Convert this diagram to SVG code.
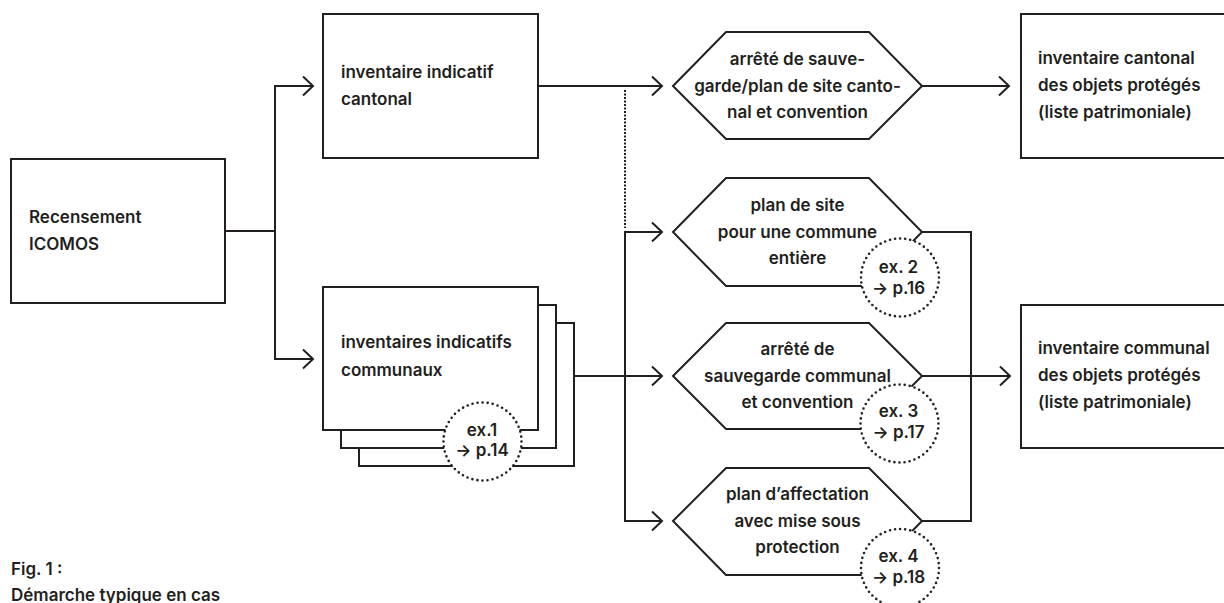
<svg xmlns="http://www.w3.org/2000/svg" width="1224" height="603" viewBox="0 0 1224 603">
<style>
.box{fill:#fff;stroke:#231f20;stroke-width:2}
.ln{fill:none;stroke:#231f20;stroke-width:2}
.dotc{fill:#fff;stroke:#231f20;stroke-width:2.6;stroke-linecap:round;stroke-dasharray:0 5.1}
.t{font-family:Inter,"Liberation Sans",Arial,sans-serif;font-weight:600;font-size:17px;fill:#231f20}
.c{text-anchor:middle}
</style>
<defs>
<marker id="arr" markerUnits="userSpaceOnUse" markerWidth="14" markerHeight="24" refX="12" refY="12" orient="auto" overflow="visible">
<path d="M2,2.5 L12,12 L2,21.5" fill="none" stroke="#231f20" stroke-width="2"/>
</marker>
</defs>
<g id="connectors">
<path class="ln" d="M225,231 H275"/>
<path class="ln" d="M275,231 V86 H313" marker-end="url(#arr)"/>
<path class="ln" d="M275,231 V359 H313" marker-end="url(#arr)"/>
<path class="ln" d="M538,86 H662" marker-end="url(#arr)"/>
<path class="ln" d="M625,90 V228" stroke-width="2.6" stroke-dasharray="2 1.5"/>
<path class="ln" d="M574,376 H662" marker-end="url(#arr)"/>
<path class="ln" d="M625,376 V232 H662" marker-end="url(#arr)"/>
<path class="ln" d="M625,376 V521 H662" marker-end="url(#arr)"/>
<path class="ln" d="M922,86 H1009" marker-end="url(#arr)"/>
<path class="ln" d="M922,232 H971 V521 H922"/>
<path class="ln" d="M922,376 H1010" marker-end="url(#arr)"/>
</g>
<g id="recensement">
<rect class="box" x="11" y="159" width="214" height="144"/>
<text class="t" x="29" y="222.5">Recensement</text>
<text class="t" x="29" y="249.5">ICOMOS</text>
</g>
<g id="inventaire-indicatif-cantonal">
<rect class="box" x="323" y="14" width="215" height="144"/>
<text class="t" x="341" y="78">inventaire indicatif</text>
<text class="t" x="341" y="104.5">cantonal</text>
</g>
<g id="inventaires-communaux">
<rect class="box" x="359" y="323" width="215" height="143"/>
<rect class="box" x="341" y="305" width="215" height="143"/>
<rect class="box" x="323" y="287" width="215" height="143"/>
<text class="t" x="341" y="348">inventaires indicatifs</text>
<text class="t" x="341" y="375.5">communaux</text>
<circle class="dotc" cx="482.5" cy="441.5" r="39"/>
<text class="t c" x="482" y="435.5">ex.1</text>
<text class="t c" x="482" y="455.5">→ p.14</text>
</g>
<g id="arrete-cantonal">
<polygon class="box" points="673,86 726,32 869,32 922,86 869,139 726,139"/>
<text class="t c" x="797.5" y="65">arrêté de sauve-</text>
<text class="t c" x="797.5" y="91.5">garde/plan de site canto-</text>
<text class="t c" x="797.5" y="118">nal et convention</text>
</g>
<g id="plan-de-site">
<polygon class="box" points="673,232 726,178 869,178 922,232 869,286 726,286"/>
<text class="t c" x="797.5" y="211">plan de site</text>
<text class="t c" x="797.5" y="237.5">pour une commune</text>
<text class="t c" x="797.5" y="264">entière</text>
<circle class="dotc" cx="900" cy="277.5" r="39"/>
<text class="t c" x="898.5" y="272.5">ex. 2</text>
<text class="t c" x="898.5" y="293.5">→ p.16</text>
</g>
<g id="arrete-communal">
<polygon class="box" points="673,376 726,323 869,323 922,376 869,429 726,429"/>
<text class="t c" x="797.5" y="355">arrêté de</text>
<text class="t c" x="797.5" y="381.5">sauvegarde communal</text>
<text class="t c" x="797.5" y="408">et convention</text>
<circle class="dotc" cx="899.5" cy="423.5" r="39"/>
<text class="t c" x="898.5" y="416.5">ex. 3</text>
<text class="t c" x="898.5" y="437.5">→ p.17</text>
</g>
<g id="plan-affectation">
<polygon class="box" points="673,521 726,468 869,468 922,521 869,575 726,575"/>
<text class="t c" x="797.5" y="500">plan d’affectation</text>
<text class="t c" x="797.5" y="526.5">avec mise sous</text>
<text class="t c" x="797.5" y="553">protection</text>
<circle class="dotc" cx="900" cy="568" r="39"/>
<text class="t c" x="898.5" y="562">ex. 4</text>
<text class="t c" x="898.5" y="583">→ p.18</text>
</g>
<g id="inventaire-cantonal-objets">
<rect class="box" x="1021" y="14" width="210" height="144"/>
<text class="t" x="1038" y="64">inventaire cantonal</text>
<text class="t" x="1038" y="91">des objets protégés</text>
<text class="t" x="1038" y="117.5">(liste patrimoniale)</text>
</g>
<g id="inventaire-communal-objets">
<rect class="box" x="1021" y="305" width="210" height="143"/>
<text class="t" x="1038" y="354">inventaire communal</text>
<text class="t" x="1038" y="381">des objets protégés</text>
<text class="t" x="1038" y="408">(liste patrimoniale)</text>
</g>
<g id="caption">
<text class="t" x="11" y="575">Fig. 1 :</text>
<text class="t" x="11" y="601">Démarche typique en cas</text>
</g>
</svg>
